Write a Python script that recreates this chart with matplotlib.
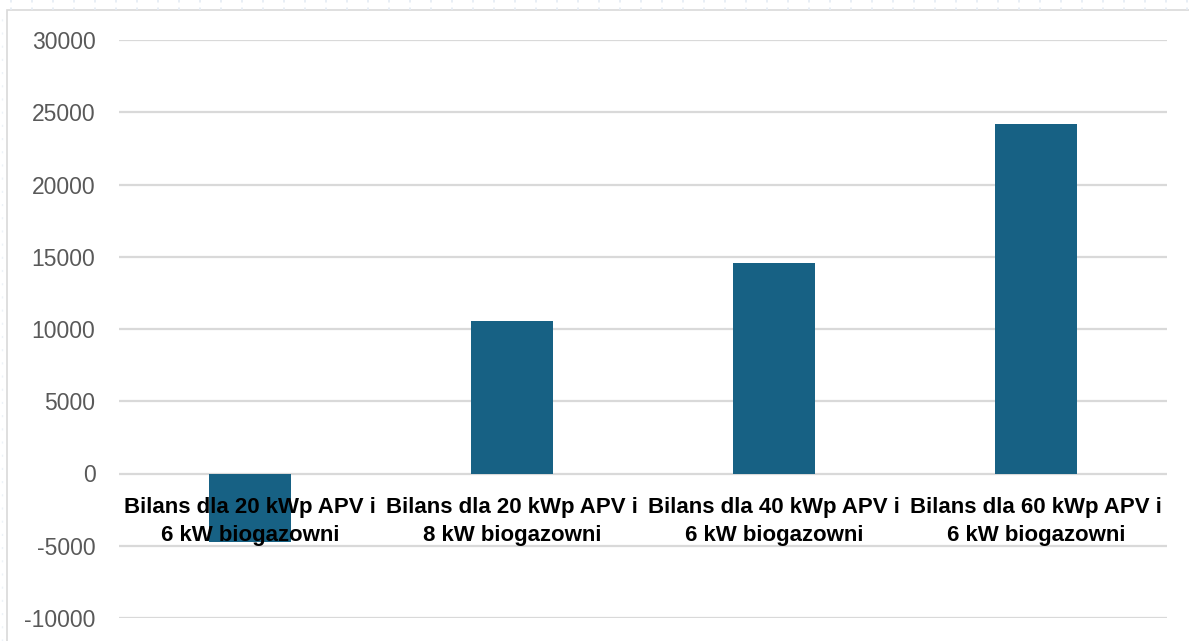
import matplotlib.pyplot as plt
from matplotlib.patches import Rectangle
from matplotlib.lines import Line2D

categories = [
    "Bilans dla 20 kWp APV i\n6 kW biogazowni",
    "Bilans dla 20 kWp APV i\n8 kW biogazowni",
    "Bilans dla 40 kWp APV i\n6 kW biogazowni",
    "Bilans dla 60 kWp APV i\n6 kW biogazowni",
]
values = [-4750, 10550, 14550, 24200]
yticks = [-10000, -5000, 0, 5000, 10000, 15000, 20000, 25000, 30000]

W, H = 1189, 641
fig = plt.figure(figsize=(W / 100, H / 100), dpi=100)
fig.patch.set_facecolor("white")

# faint worksheet cell grid peeking out around the chart frame
for x in range(11, W, 21):
    fig.add_artist(Line2D([x / W, x / W], [1 - 10 / H, 1.0], color="#e4ebf3",
                          lw=1.2, ls=(0, (1.5, 3))))
fig.add_artist(Line2D([2 / W, 2 / W], [0, 1 - 10 / H], color="#edf2f7",
                      lw=1.0, ls=(0, (1.5, 8))))

# chart frame
fig.add_artist(Rectangle((7 / W, -0.1), 1.2, 1.1 - 10 / H,
                         transform=fig.transFigure, facecolor="white",
                         edgecolor="#d9d9d9", lw=1.2, zorder=0))

ax = fig.add_axes([119 / W, 1 - 618 / H, (1167 - 119) / W, (618 - 40) / H])
ax.set_facecolor("none")

x = range(len(values))
ax.bar(x, values, width=0.313, color="#176184", zorder=2)

ax.set_xlim(-0.5, len(values) - 0.5)
ax.set_ylim(-10000, 30000)
ax.set_yticks(yticks)
ax.set_yticklabels([str(v) for v in yticks], fontsize=16.5, color="#595959",
                   family="Liberation Sans")
ax.tick_params(axis="y", length=0, pad=17)
ax.set_xticks([])
ax.grid(axis="y", color="#d9d9d9", lw=1.6, zorder=1)
ax.set_axisbelow(True)
for s in ax.spines.values():
    s.set_visible(False)

# category labels sit just under the zero line
for i, lab in enumerate(categories):
    ax.annotate(lab, xy=(i, 0), xytext=(0, -17), textcoords="offset points",
                ha="center", va="top", fontsize=16, fontweight="bold",
                family="Liberation Sans", color="black", linespacing=1.4,
                zorder=3)

fig.savefig("out.png", dpi=100)
